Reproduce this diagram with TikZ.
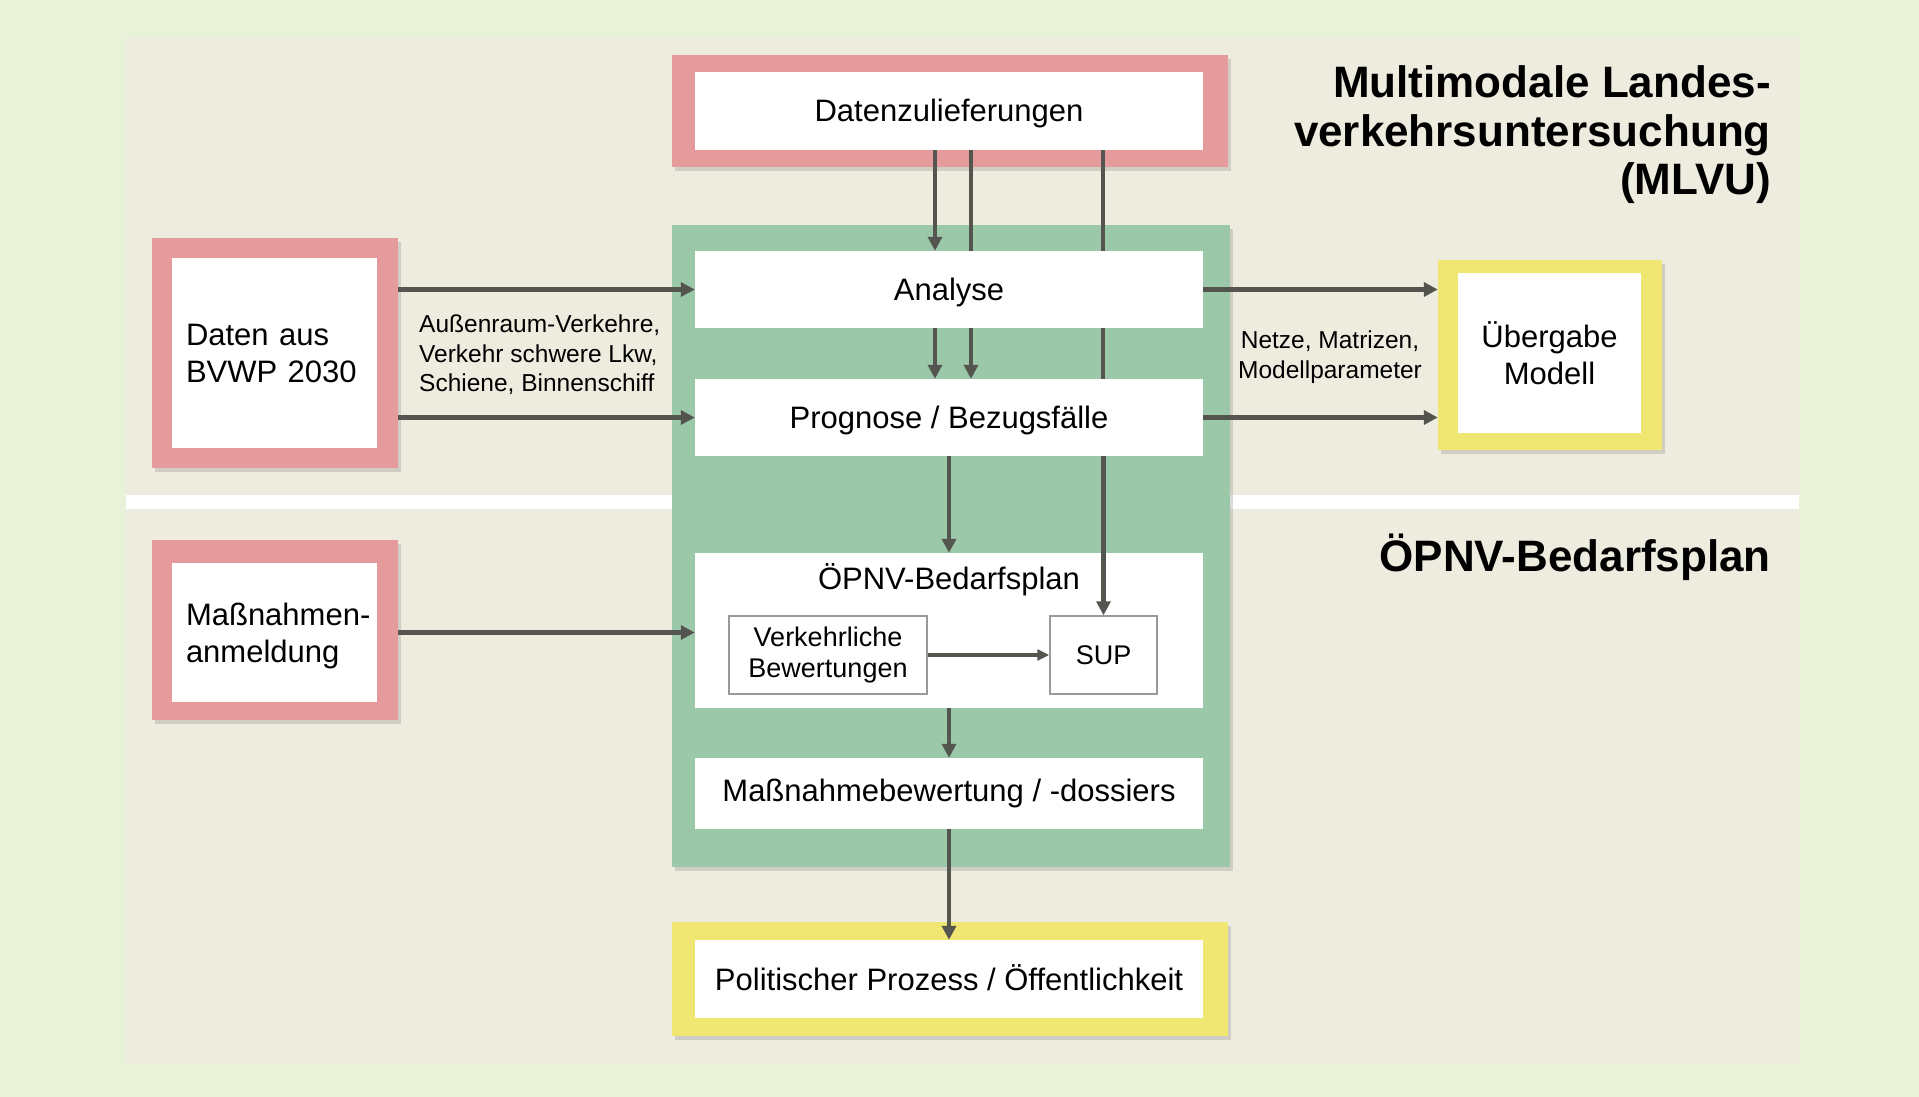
\documentclass[tikz,border=0pt]{standalone}
\usepackage{fontspec}
\setmainfont{Liberation Sans}
\usetikzlibrary{arrows.meta,shadows}

\definecolor{pagegreen}{HTML}{E9F1D9}
\definecolor{panel}{HTML}{EEEBDF}
\definecolor{framepink}{HTML}{E59B9C}
\definecolor{framegreen}{HTML}{9BC8A9}
\definecolor{frameyellow}{HTML}{F0E672}
\definecolor{arrowgray}{HTML}{55554F}
\definecolor{subgray}{HTML}{9A9A9A}

\begin{document}
\begin{tikzpicture}[x=1pt,y=-1pt,
  frame/.style={fill=#1, draw=none, inner sep=0pt,
    drop shadow={shadow xshift=3pt, shadow yshift=-4pt, opacity=0.28}},
  whitebox/.style={fill=white, draw=none, inner sep=0pt, align=center,
    font=\fontsize{31}{37}\selectfont},
  oneline/.style={text height=22pt, text depth=0pt},
  leftbox/.style={whitebox, align=left, inner xsep=14pt},
  subbox/.style={fill=white, draw=subgray, line width=1.5pt, inner sep=0pt,
    align=center, font=\fontsize{27}{32}\selectfont},
  edgelabel/.style={inner sep=0pt, font=\fontsize{24.5}{29.5}\selectfont},
  heading/.style={inner sep=0pt, anchor=east, align=right,
    font=\fontsize{44}{48.5}\selectfont\bfseries},
  link/.style={draw=arrowgray, line width=4.5pt},
  conn/.style={link, -{Triangle[length=14pt,width=14pt]}},
  thinconn/.style={draw=arrowgray, line width=3.2pt, -{Triangle[length=12pt,width=11pt]}}
]
\useasboundingbox (0,0) rectangle (1919,1097);

% page and panel
\fill[pagegreen] (0,0) rectangle (1919,1097);
\fill[panel] (126,38) rectangle (1799,1063);
\fill[white] (126,495) rectangle (1799,509);

% coloured frames
\node[frame=framepink, minimum width=556pt, minimum height=112pt] (dzF) at (950,111) {};
\node[frame=framegreen, minimum width=558pt, minimum height=642pt] (core) at (951,546) {};
\node[frame=frameyellow, minimum width=556pt, minimum height=114pt] (polF) at (950,979) {};
\node[frame=framepink, minimum width=246pt, minimum height=230pt] (bvwpF) at (275,353) {};
\node[frame=framepink, minimum width=246pt, minimum height=180pt] (maF) at (275,630) {};
\node[frame=frameyellow, minimum width=224pt, minimum height=190pt] (ubF) at (1550,355) {};

% white process boxes
\node[whitebox, oneline, minimum width=508pt, minimum height=78pt] (dz) at (949,111) {Datenzulieferungen};
\node[whitebox, oneline, minimum width=508pt, minimum height=77pt] (analyse) at (949,289.5) {Analyse};
\node[whitebox, oneline, minimum width=508pt, minimum height=77pt] (prognose) at (949,417.5) {Prognose / Bezugsfälle};
\node[whitebox, minimum width=508pt, minimum height=155pt] (oepnv) at (949,630.5) {};
\node[whitebox] (oepnvtitle) at (949,580) {ÖPNV-Bedarfsplan};
\node[subbox, minimum width=198pt, minimum height=78pt] (vb) at (828,655) {Verkehrliche\\[-1pt]Bewertungen};
\node[subbox, minimum width=107pt, minimum height=78pt] (sup) at (1103.5,655) {SUP};
\node[whitebox, minimum width=508pt, minimum height=71pt] (massn) at (949,793.5) {Maßnahmebewertung / -dossiers};
\node[whitebox, text height=23pt, text depth=0.5pt, minimum width=508pt, minimum height=78pt] (pol) at (949,979) {Politischer Prozess / Öffentlichkeit};
\node[leftbox, text width=177pt, minimum height=190pt] (bvwp) at (274.5,353) {Daten aus\\BVWP 2030};
\node[leftbox, text width=177pt, minimum height=139pt, text depth=36pt] (ma) at (274.5,632.5) {\mbox{Maßnahmen-}\\anmeldung};
\node[whitebox, minimum width=183pt, minimum height=160pt] (ub) at (1549.5,353) {Übergabe\\Modell};

% headings
\node[heading] (mlvu) at (1771,135) {Multimodale Landes-\\verkehrsuntersuchung\\(MLVU)};
\node[heading] (bedarf) at (1771,557) {ÖPNV-Bedarfsplan};

% connector labels
\node[edgelabel, anchor=west, align=left] (lblin) at (419,355)
  {Außenraum-Verkehre,\\Verkehr schwere Lkw,\\Schiene, Binnenschiff};
\node[edgelabel, align=center] (lblout) at (1330,357)
  {Netze, Matrizen,\\Modellparameter};

% data supply into the core
\draw[conn] ([xshift=-14pt]dz.south) -- ([xshift=-14pt]analyse.north);
\draw[link] ([xshift=22pt]dz.south) -- ([xshift=22pt]analyse.north);
\draw[link] ([xshift=154pt]dz.south) -- ([xshift=154pt]analyse.north);
\draw[conn] ([xshift=-14pt]analyse.south) -- ([xshift=-14pt]prognose.north);
\draw[conn] ([xshift=22pt]analyse.south) -- ([xshift=22pt]prognose.north);
\draw[link] ([xshift=154pt]analyse.south) -- ([xshift=154pt]prognose.north);
\draw[conn] (prognose.south -| sup.north) -- (sup.north);

% main flow
\draw[conn] (prognose.south) -- (oepnv.north);
\draw[conn] (oepnv.south) -- (massn.north);
\draw[conn] (massn.south) -- (pol.north);
\draw[thinconn] (vb.east) -- (sup.west);

% inputs from the left
\draw[conn] (bvwpF.east |- analyse.west) -- (analyse.west);
\draw[conn] (bvwpF.east |- prognose.west) -- (prognose.west);
\draw[conn] (maF.east |- ma.east) -- (oepnv.west |- ma.east);

% hand-over to the right
\draw[conn] (analyse.east) -- (analyse.east -| ubF.west);
\draw[conn] (prognose.east) -- (prognose.east -| ubF.west);
\end{tikzpicture}
\end{document}
